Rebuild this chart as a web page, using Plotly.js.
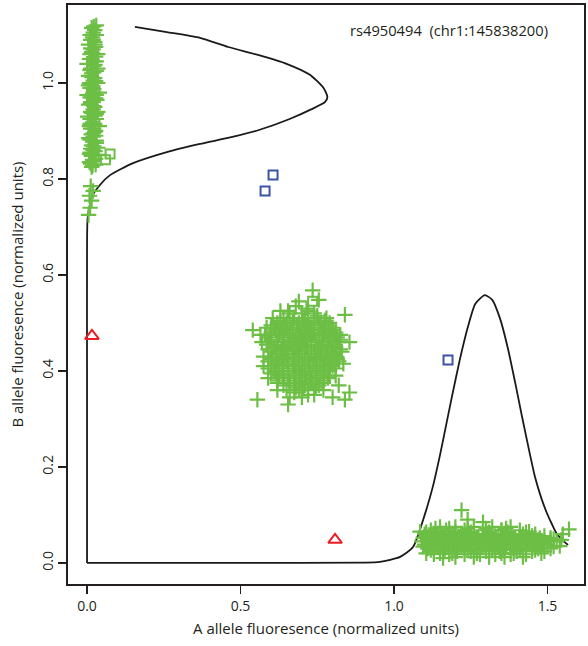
<!DOCTYPE html>
<html>
<head>
<meta charset="utf-8">
<script src="https://cdn.plot.ly/plotly-3.0.1.min.js"></script>
<style>html,body{margin:0;padding:0;background:#fff;}#chart{width:588px;height:646px;}</style>
</head>
<body>
<div id="chart"></div>
<script>
// ---- Data ----
// AA cluster (near x = 0, high B)
var aaX = [0.015,0.025,0.01,0.03,0.02,0.005,0.028,0.015,0.035,0.008,0.022,0.012,0.03,0.005,0.02,0.035,0.01,0.025,0.015,0.032,0.005,0.02,0.03,0.01,0.025,0.04,0.012,0.02,0.005,0.03,0.015,0.035,0.01,0.025,0.018,0.008,0.028,0.015,0.02,0.022,0.018,0.012,0.028,0.038,0.04,0.002,0.0,
  0.012,0.028,0.008,0.022,0.03,0.01,0.02,0.025,0.008,0.018,0.03,0.012,0.025,0.01,0.03,0.02,0.008,0.025,0.015,0.03,0.01,0.02,0.025,0.012,0.02,0.03,0.005,0.035,0.035,0.0,
  0.018,0.02,0.014,0.026,0.012,0.018,0.028,0.014,0.022,0.01,0.026,0.016,0.022,0.012,0.028,0.018,0.022,0.012,0.028,0.016,0.022,0.01,0.026,0.016,0.028,0.018,0.012,0.026,0.018,0.022,
  0.012,0.02,0.008,0.015,0.01,0.005];
var aaY = [1.115,1.11,1.10,1.10,1.09,1.08,1.075,1.065,1.06,1.05,1.045,1.03,1.025,1.015,1.005,1.0,0.99,0.98,0.97,0.965,0.955,0.945,0.935,0.925,0.915,0.91,0.905,0.895,0.885,0.88,0.87,0.865,0.855,0.85,0.84,0.835,0.83,0.825,0.86,1.035,0.99,0.96,0.9,0.85,0.98,0.93,1.04,
  0.832,0.842,0.852,0.868,0.875,0.882,0.888,0.898,0.91,0.918,0.925,0.94,0.95,0.97,0.975,0.96,1.0,1.01,1.02,1.045,1.06,1.07,1.085,1.09,1.105,1.12,0.995,0.94,1.03,0.975,
  0.828,0.838,0.848,0.858,0.863,0.878,0.89,0.893,0.905,0.915,0.932,0.937,0.952,0.958,0.968,0.978,0.987,0.997,1.004,1.012,1.022,1.027,1.038,1.05,1.055,1.062,1.072,1.08,1.095,1.118,
  0.785,0.775,0.765,0.755,0.74,0.725];
// AB cluster (middle)
var abX = [0.66,0.70,0.74,
  0.62,0.65,0.69,0.72,0.76,0.79,
  0.60,0.63,0.67,0.71,0.74,0.78,0.81,
  0.59,0.62,0.66,0.69,0.73,0.77,0.80,0.82,
  0.60,0.63,0.67,0.70,0.74,0.78,0.81,
  0.59,0.62,0.65,0.69,0.72,0.76,0.80,0.82,
  0.61,0.64,0.68,0.71,0.75,0.79,
  0.62,0.66,0.70,0.73,0.77,
  0.65,0.69,0.72,
  0.64,0.675,0.71,0.75,0.78,
  0.61,0.635,0.66,0.70,0.73,0.77,0.80,
  0.595,0.64,0.68,0.70,0.72,0.755,0.79,0.815,
  0.61,0.645,0.68,0.715,0.75,0.785,0.81,
  0.605,0.64,0.675,0.71,0.745,0.775,0.81,
  0.60,0.635,0.67,0.70,0.735,0.77,0.80,
  0.625,0.655,0.69,0.725,0.76,0.79,
  0.675,0.71,0.755,
  0.655,0.72,
  0.63,0.67,0.705,0.74,0.775,
  0.60,0.645,0.685,0.715,0.755,0.79,
  0.615,0.65,0.69,0.725,0.765,0.80,
  0.58,0.625,0.66,0.695,0.735,0.775,0.805,
  0.60,0.64,0.675,0.71,0.745,0.785,0.825,
  0.62,0.655,0.695,0.73,0.765,0.80,
  0.59,0.645,0.685,0.72,0.76,0.795,0.825,
  0.615,0.655,0.69,0.73,0.765,0.80,
  0.60,0.64,0.675,0.71,0.75,0.785,0.815,
  0.615,0.655,0.69,0.725,0.76,0.79,
  0.59,0.635,0.675,0.71,0.745,0.775,0.81,
  0.615,0.655,0.695,0.73,0.77,
  0.64,0.68,0.715,0.75,0.785,
  0.62,0.66,0.695,0.735,0.77,
  0.68,0.705,0.745,
  0.605,0.68,0.715,0.75,0.585,0.575,0.83,0.81,0.64,0.675,0.70,0.745,0.785,0.60,0.665,0.705,0.685,0.725,0.655,0.635,0.755,0.715,0.645,0.765,0.795,0.625,
  0.585,0.57,0.575,0.59,0.825,0.835,0.82,0.77,0.63,0.69,0.62,0.74,
  0.54,0.565,0.735,0.755,0.84,0.855,0.855,0.84,0.555,0.655,0.66,0.72,0.80];
var abY = [0.52,0.52,0.52,
  0.50,0.50,0.50,0.50,0.50,0.50,
  0.48,0.48,0.48,0.48,0.48,0.48,0.48,
  0.46,0.46,0.46,0.46,0.46,0.46,0.46,0.46,
  0.44,0.44,0.44,0.44,0.44,0.44,0.44,
  0.42,0.42,0.42,0.42,0.42,0.42,0.42,0.42,
  0.40,0.40,0.40,0.40,0.40,0.40,
  0.38,0.38,0.38,0.38,0.38,
  0.36,0.36,0.36,
  0.51,0.51,0.51,0.51,0.51,
  0.49,0.49,0.49,0.49,0.49,0.49,0.49,
  0.47,0.47,0.47,0.47,0.47,0.47,0.47,0.47,
  0.45,0.45,0.45,0.45,0.45,0.45,0.45,
  0.43,0.43,0.43,0.43,0.43,0.43,0.43,
  0.41,0.41,0.41,0.41,0.41,0.41,0.41,
  0.39,0.39,0.39,0.39,0.39,0.39,
  0.37,0.37,0.37,
  0.525,0.525,
  0.505,0.505,0.505,0.505,0.505,
  0.495,0.495,0.495,0.495,0.495,0.495,
  0.485,0.485,0.485,0.485,0.485,0.485,
  0.475,0.475,0.475,0.475,0.475,0.475,0.475,
  0.465,0.465,0.465,0.465,0.465,0.465,0.465,
  0.455,0.455,0.455,0.455,0.455,0.455,
  0.445,0.445,0.445,0.445,0.445,0.445,0.445,
  0.435,0.435,0.435,0.435,0.435,0.435,
  0.425,0.425,0.425,0.425,0.425,0.425,0.425,
  0.415,0.415,0.415,0.415,0.415,0.415,
  0.405,0.405,0.405,0.405,0.405,0.405,0.405,
  0.395,0.395,0.395,0.395,0.395,
  0.385,0.385,0.385,0.385,0.385,
  0.375,0.375,0.375,0.375,0.375,
  0.365,0.365,0.365,
  0.51,0.535,0.53,0.515,0.455,0.43,0.44,0.39,0.37,0.355,0.345,0.37,0.405,0.395,0.455,0.465,0.425,0.405,0.415,0.445,0.45,0.48,0.49,0.475,0.43,0.41,
  0.49,0.46,0.41,0.385,0.475,0.415,0.37,0.36,0.525,0.545,0.36,0.35,
  0.485,0.475,0.568,0.548,0.517,0.46,0.355,0.34,0.34,0.33,0.345,0.35,0.345];
// BB cluster (high A, low B)
var bbX = [1.15,1.20,1.26,1.32,1.38,
  1.10,1.14,1.18,1.22,1.26,1.30,1.34,1.38,1.42,1.46,
  1.09,1.13,1.17,1.21,1.25,1.29,1.33,1.37,1.41,1.45,1.49,1.53,
  1.11,1.15,1.19,1.23,1.27,1.31,1.35,1.39,1.43,1.47,1.51,
  1.13,1.18,1.23,1.28,1.33,1.38,1.43,
  1.12,1.17,1.23,1.29,1.35,1.41,
  1.095,1.115,1.155,1.195,1.235,1.275,1.315,1.355,1.395,1.435,1.475,1.51,
  1.10,1.13,1.15,1.19,1.23,1.27,1.31,1.35,1.39,1.43,1.47,1.50,
  1.13,1.165,1.205,1.25,1.30,1.345,1.40,1.45,1.49,
  1.20,1.26,1.31,1.42,
  1.135,1.18,1.24,1.30,1.365,
  1.105,1.15,1.20,1.25,1.31,1.37,1.43,
  1.13,1.17,1.21,1.25,1.29,1.33,1.37,1.41,1.45,1.49,
  1.11,1.15,1.19,1.23,1.27,1.31,1.35,1.39,1.43,1.47,1.51,1.545,
  1.12,1.16,1.21,1.25,1.29,1.33,1.37,1.41,1.45,1.485,
  1.095,1.14,1.18,1.22,1.26,1.30,1.34,1.38,1.42,1.46,1.52,
  1.12,1.16,1.20,1.24,1.28,1.32,1.36,1.41,1.46,
  1.15,1.19,1.27,1.35,1.39,
  1.22,1.12,1.085,1.105,1.55,1.57,1.54,1.52,1.29,1.36,1.48,1.24,1.35,1.16,1.44];
var bbY = [0.075,0.075,0.075,0.075,0.075,
  0.06,0.06,0.06,0.06,0.06,0.06,0.06,0.06,0.06,0.06,
  0.045,0.045,0.045,0.045,0.045,0.045,0.045,0.045,0.045,0.045,0.045,0.045,
  0.03,0.03,0.03,0.03,0.03,0.03,0.03,0.03,0.03,0.03,0.03,
  0.018,0.018,0.018,0.018,0.018,0.018,0.018,
  0.068,0.068,0.068,0.068,0.068,0.068,
  0.052,0.052,0.052,0.052,0.052,0.052,0.052,0.052,0.052,0.052,0.052,0.052,
  0.038,0.038,0.038,0.038,0.038,0.038,0.038,0.038,0.038,0.038,0.038,0.038,
  0.024,0.024,0.024,0.024,0.024,0.024,0.024,0.024,0.024,
  0.012,0.012,0.012,0.012,
  0.072,0.072,0.072,0.072,0.072,
  0.064,0.064,0.064,0.064,0.064,0.064,0.064,
  0.056,0.056,0.056,0.056,0.056,0.056,0.056,0.056,0.056,0.056,
  0.048,0.048,0.048,0.048,0.048,0.048,0.048,0.048,0.048,0.048,0.048,0.048,
  0.041,0.041,0.041,0.041,0.041,0.041,0.041,0.041,0.041,0.041,
  0.034,0.034,0.034,0.034,0.034,0.034,0.034,0.034,0.034,0.034,0.034,
  0.027,0.027,0.027,0.027,0.027,0.027,0.027,0.027,0.027,
  0.02,0.02,0.02,0.02,0.02,
  0.11,0.045,0.065,0.02,0.06,0.07,0.035,0.05,0.085,0.012,0.02,0.09,0.068,0.01,0.065];
// green squares
var gsqX = [0.06,0.075,0.735];
var gsqY = [0.84,0.852,0.545];
// blue squares
var bsqX = [0.58,0.606,1.176];
var bsqY = [0.775,0.808,0.423];
// red triangles
var triX = [0.016,0.808];
var triY = [0.473,0.048];
// density curve along B (vertical, left)
var dBx = [0,0,0,0.002,0.016,0.042,0.075,0.15,0.26,0.368,0.47,0.56,0.66,0.73,0.775,0.783,0.77,0.726,0.65,0.56,0.46,0.368,0.26,0.156];
var dBy = [0,0.4,0.65,0.719,0.763,0.7875,0.808,0.833,0.856,0.873,0.887,0.902,0.925,0.945,0.96,0.971,0.99,1.017,1.04,1.058,1.075,1.094,1.106,1.117];
// density curve along A (horizontal, bottom)
var dAx = [0,0.5,0.9,0.954,1.02,1.062,1.10,1.127,1.15,1.166,1.19,1.215,1.24,1.265,1.296,1.32,1.345,1.37,1.395,1.417,1.44,1.459,1.48,1.498,1.515,1.531,1.55,1.567];
var dAy = [0,0,0.0005,0.002,0.0125,0.033,0.10,0.16,0.225,0.275,0.35,0.425,0.49,0.54,0.558,0.548,0.51,0.45,0.375,0.305,0.235,0.18,0.135,0.104,0.08,0.06,0.047,0.0375];

var tickX = [0, 0.5, 1.0, 1.5];
var tickXText = ['0.0','0.5','1.0','1.5'];
var tickY = [0, 0.2, 0.4, 0.6, 0.8, 1.0];
var tickYText = ['0.0','0.2','0.4','0.6','0.8','1.0'];
var label = 'rs4950494  (chr1:145838200)';

var green = '#6cbe45';
var plusMarker = {symbol:'cross-thin-open', size:11, color:green, line:{color:green, width:2.2}};

var traces = [
  {x:dBx, y:dBy, mode:'lines', line:{color:'#1a1a1a', width:1.8, shape:'spline', smoothing:0.6}, hoverinfo:'skip'},
  {x:dAx, y:dAy, mode:'lines', line:{color:'#1a1a1a', width:1.8, shape:'spline', smoothing:0.6}, hoverinfo:'skip'},
  {x:aaX, y:aaY, mode:'markers', marker:plusMarker},
  {x:abX, y:abY, mode:'markers', marker:plusMarker},
  {x:bbX, y:bbY, mode:'markers', marker:plusMarker},
  {x:gsqX, y:gsqY, mode:'markers', marker:{symbol:'square-open', size:9, color:green, line:{color:green, width:2}}},
  {x:bsqX, y:bsqY, mode:'markers', marker:{symbol:'square-open', size:9, color:'#3a55a6', line:{color:'#3a55a6', width:2}}},
  {x:triX, y:triY, mode:'markers', marker:{symbol:'triangle-up-open', size:12, color:'#ee1c25', line:{color:'#ee1c25', width:2}}}
];

var fontFam = '"Open Sans", "Liberation Sans", Arial, sans-serif';
var layout = {
  width:588, height:646,
  margin:{l:68, r:4, t:5, b:62},
  paper_bgcolor:'#fff', plot_bgcolor:'#fff',
  showlegend:false,
  font:{family:fontFam, color:'#231f20', size:14},
  xaxis:{range:[-0.062,1.619], tickvals:tickX, ticktext:tickXText, ticks:'outside', ticklen:8, tickwidth:1.5, tickcolor:'#231f20',
         showline:true, mirror:true, linecolor:'#231f20', linewidth:1.8, showgrid:false, zeroline:false,
         tickfont:{size:14}, title:{text:'A allele fluoresence (normalized units)', font:{size:15}, standoff:10}},
  yaxis:{range:[-0.044,1.1625], tickvals:tickY, ticktext:tickYText, ticks:'outside', ticklen:8, tickwidth:1.5, tickcolor:'#231f20',
         showline:true, mirror:true, linecolor:'#231f20', linewidth:1.8, showgrid:false, zeroline:false, tickangle:-90,
         tickfont:{size:14}, title:{text:'B allele fluoresence (normalized units)', font:{size:15}, standoff:10}},
  annotations:[{x:1.18, y:1.11, xref:'x', yref:'y', text:label, showarrow:false, font:{size:14.7, color:'#231f20'}}]
};
Plotly.newPlot('chart', traces, layout, {displayModeBar:false, staticPlot:true});
</script>
</body>
</html>
